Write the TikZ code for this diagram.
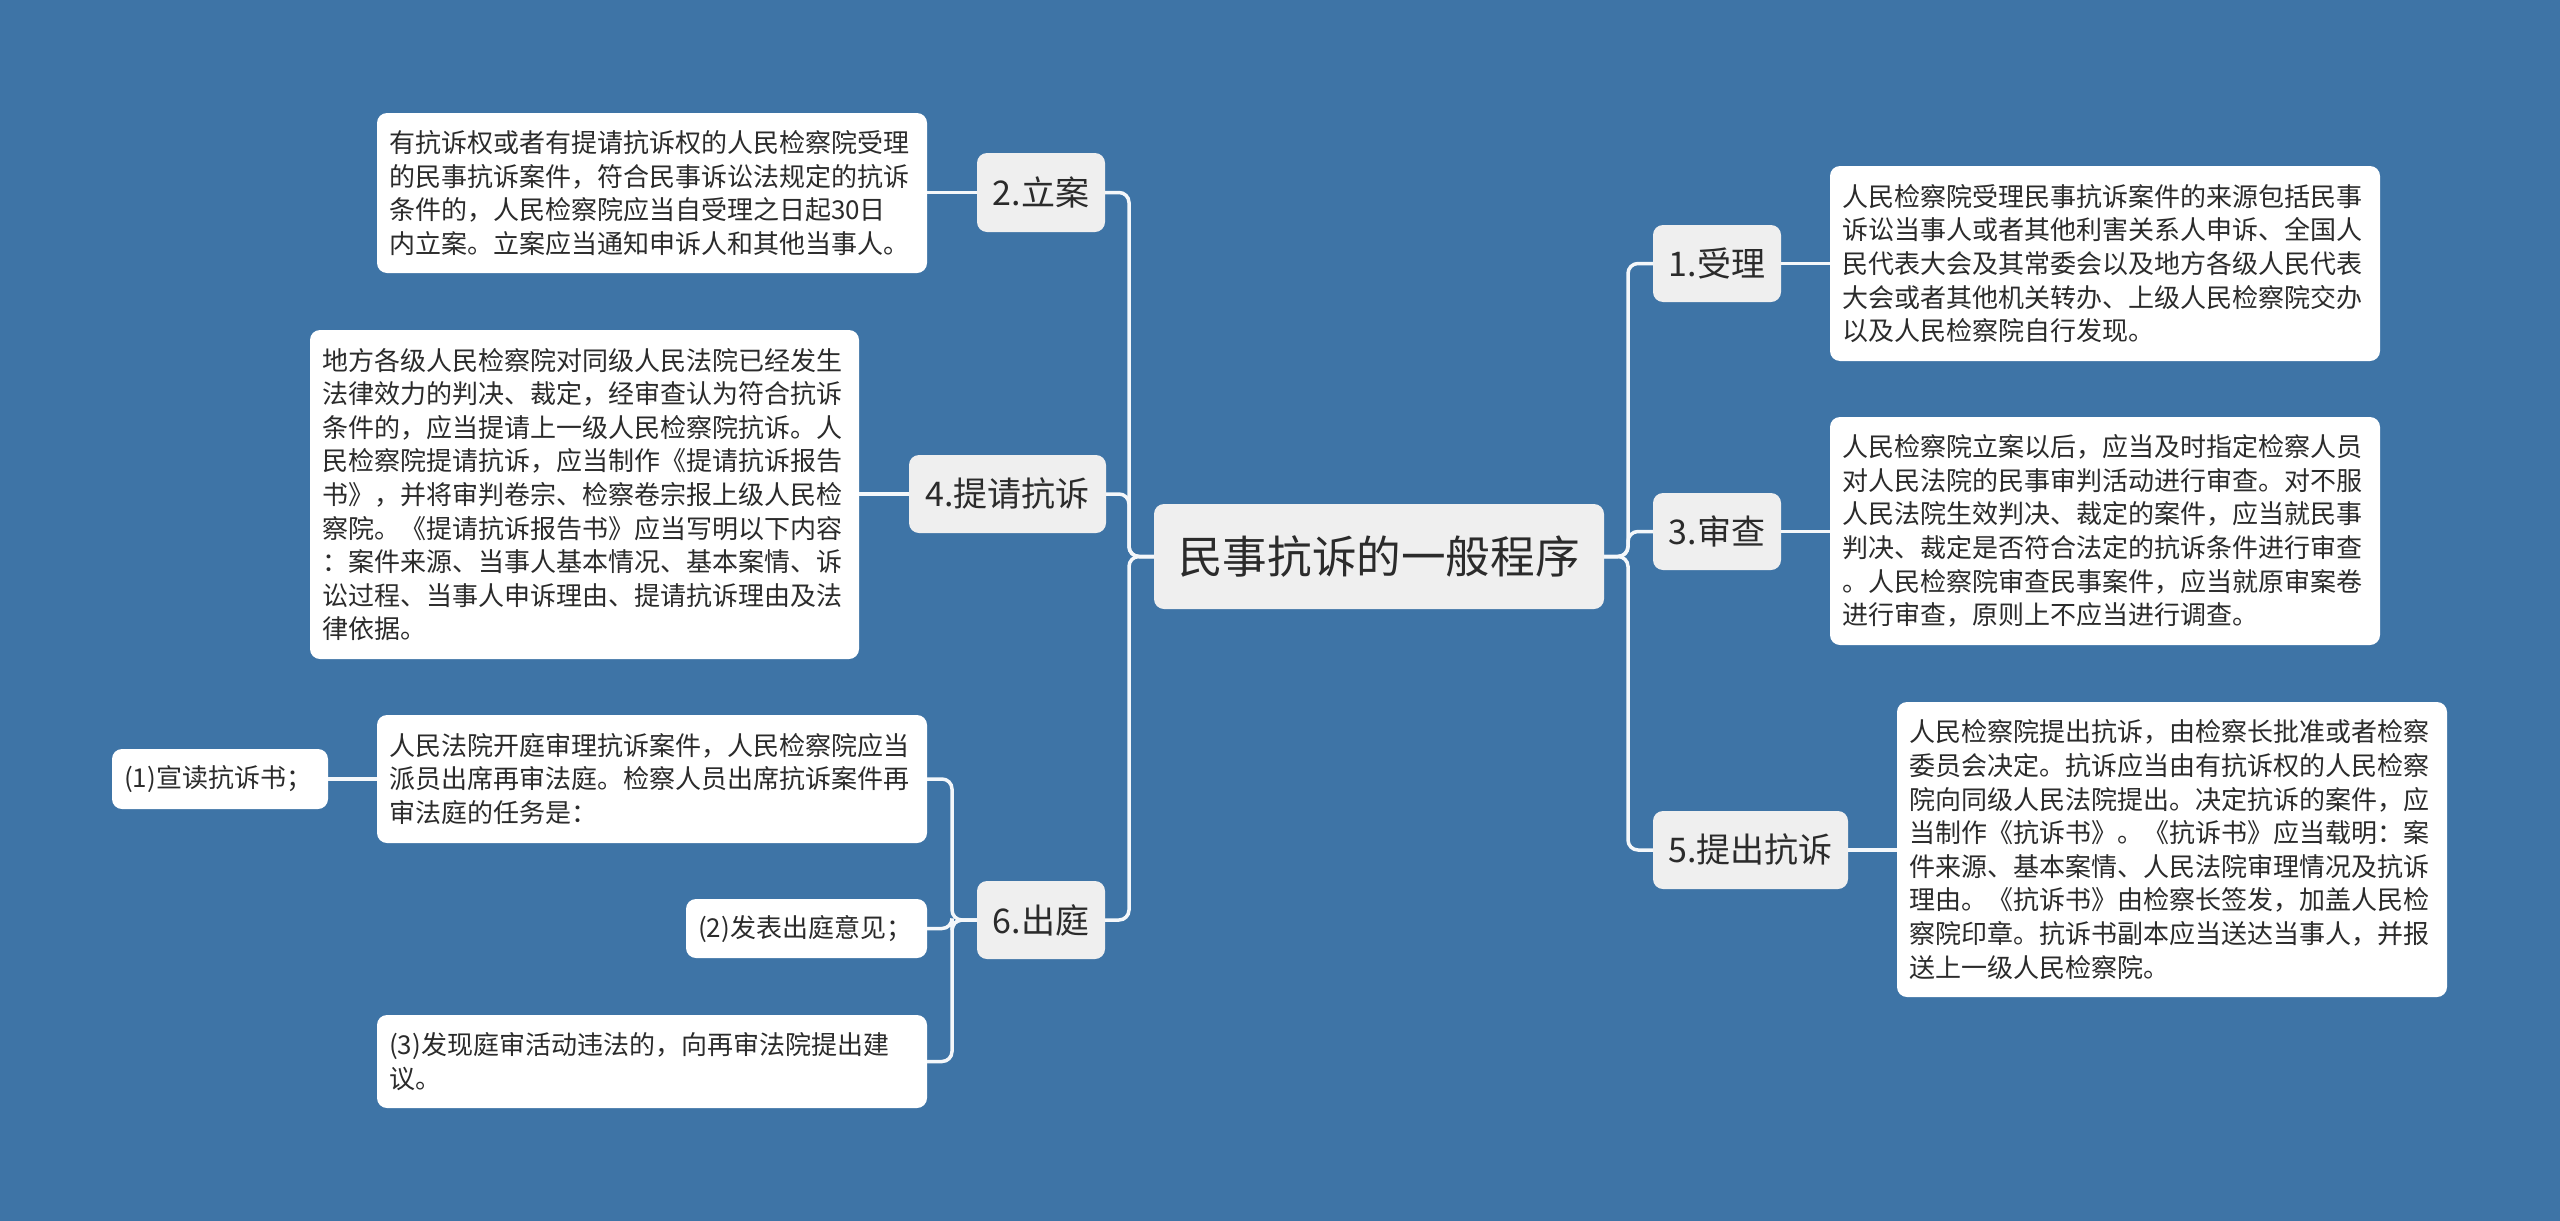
\documentclass[tikz,border=0pt]{standalone}
\usepackage{fontspec}
\setmainfont{Noto Sans CJK SC}
\definecolor{bg}{HTML}{3E74A6}
\definecolor{lvl}{HTML}{EFEFEF}
\definecolor{ink}{HTML}{2B2B2B}
\definecolor{wirec}{HTML}{F4F7FA}
\begin{document}
\begin{tikzpicture}[x=0.5pt,y=-0.5pt,
  base/.style={outer sep=0pt, inner ysep=0pt, text=ink, rounded corners=5pt},
  rootbox/.style={base, fill=lvl, font=\fontsize{22.3pt}{27pt}\selectfont, inner xsep=0pt},
  topic/.style={base, fill=lvl, font=\fontsize{17pt}{20pt}\selectfont, inner xsep=0pt},
  leaf/.style={base, fill=white, font=\fontsize{13pt}{16.8pt}\selectfont, align=left, inner xsep=6pt},
  wire/.style={draw=wirec, line width=1.75pt, rounded corners=5pt}]
\fill[bg] (0,0) rectangle (2560,1221);
\useasboundingbox (0,0) rectangle (2560,1221);

% root
\node[rootbox, minimum width=225pt, minimum height=52.5pt] (root) at (1379,556.5) {民事抗诉的一般程序};

% level 1
\node[topic, minimum width=64pt, minimum height=38.5pt] (n1) at (1717,263.5) {1.受理};
\node[topic, minimum width=64pt, minimum height=38.5pt] (n3) at (1717,531.5) {3.审查};
\node[topic, minimum width=97.5pt, minimum height=39pt] (n5) at (1750.5,850) {5.提出抗诉};
\node[topic, minimum width=64pt, minimum height=39.5pt] (n2) at (1041,192.5) {2.立案};
\node[topic, minimum width=98.5pt, minimum height=39pt] (n4) at (1007.5,494) {4.提请抗诉};
\node[topic, minimum width=64pt, minimum height=39pt] (n6) at (1041,920) {6.出庭};

% leaves right
\node[leaf, text width=263pt, minimum height=97.5pt] (l1) at (2105,263.5) {人民检察院受理民事抗诉案件的来源包括民事\\诉讼当事人或者其他利害关系人申诉、全国人\\民代表大会及其常委会以及地方各级人民代表\\大会或者其他机关转办、上级人民检察院交办\\以及人民检察院自行发现。};
\node[leaf, text width=263pt, minimum height=114pt] (l3) at (2105,531) {人民检察院立案以后，应当及时指定检察人员\\对人民法院的民事审判活动进行审查。对不服\\人民法院生效判决、裁定的案件，应当就民事\\判决、裁定是否符合法定的抗诉条件进行审查\\。人民检察院审查民事案件，应当就原审案卷\\进行审查，原则上不应当进行调查。};
\node[leaf, text width=263pt, minimum height=147.5pt] (l5) at (2172,849.5) {人民检察院提出抗诉，由检察长批准或者检察\\委员会决定。抗诉应当由有抗诉权的人民检察\\院向同级人民法院提出。决定抗诉的案件，应\\当制作《抗诉书》。《抗诉书》应当载明：案\\件来源、基本案情、人民法院审理情况及抗诉\\理由。《抗诉书》由检察长签发，加盖人民检\\察院印章。抗诉书副本应当送达当事人，并报\\送上一级人民检察院。};

% leaves left
\node[leaf, text width=263pt, minimum height=80pt] (l2) at (652,193) {有抗诉权或者有提请抗诉权的人民检察院受理\\的民事抗诉案件，符合民事诉讼法规定的抗诉\\条件的，人民检察院应当自受理之日起30日\\内立案。立案应当通知申诉人和其他当事人。};
\node[leaf, text width=262.5pt, minimum height=164.5pt] (l4) at (584.5,494.5) {地方各级人民检察院对同级人民法院已经发生\\法律效力的判决、裁定，经审查认为符合抗诉\\条件的，应当提请上一级人民检察院抗诉。人\\民检察院提请抗诉，应当制作《提请抗诉报告\\书》，并将审判卷宗、检察卷宗报上级人民检\\察院。《提请抗诉报告书》应当写明以下内容\\：案件来源、当事人基本情况、基本案情、诉\\讼过程、当事人申诉理由、提请抗诉理由及法\\律依据。};
\node[leaf, text width=263pt, minimum height=64pt] (l6) at (652,779) {人民法院开庭审理抗诉案件，人民检察院应当\\派员出席再审法庭。检察人员出席抗诉案件再\\审法庭的任务是：};
\node[leaf, text width=96pt, minimum height=30pt] (s1) at (220,779) {(1)宣读抗诉书；};
\node[leaf, text width=108.5pt, minimum height=29.5pt] (s2) at (806.5,928.5) {(2)发表出庭意见；};
\node[leaf, text width=263pt, minimum height=46.5pt] (s3) at (652,1061.5) {(3)发现庭审活动违法的，向再审法院提出建\\议。};

% connectors root -> level 1
\draw[wire] (root.east) -- ++(24,0) |- (n1.west);
\draw[wire] (root.east) -- ++(24,0) |- (n3.west);
\draw[wire] (root.east) -- ++(24,0) |- (n5.west);
\draw[wire] (root.west) -- ++(-25,0) |- (n2.east);
\draw[wire] (root.west) -- ++(-25,0) |- (n4.east);
\draw[wire] (root.west) -- ++(-25,0) |- (n6.east);

% level 1 -> leaves
\draw[wire] (n1.east) -- (n1.east -| l1.west);
\draw[wire] (n3.east) -- (n3.east -| l3.west);
\draw[wire] (n5.east) -- (n5.east -| l5.west);
\draw[wire] (n2.west) -- (n2.west -| l2.east);
\draw[wire] (n4.west) -- (n4.west -| l4.east);
\draw[wire] (n6.west) -- ++(-25,0) |- (l6.east);
\draw[wire] (n6.west) -- ++(-25,0) |- (s2.east);
\draw[wire] (n6.west) -- ++(-25,0) |- (s3.east);
\draw[wire] (l6.west) -- (s1.east);
\end{tikzpicture}
\end{document}
